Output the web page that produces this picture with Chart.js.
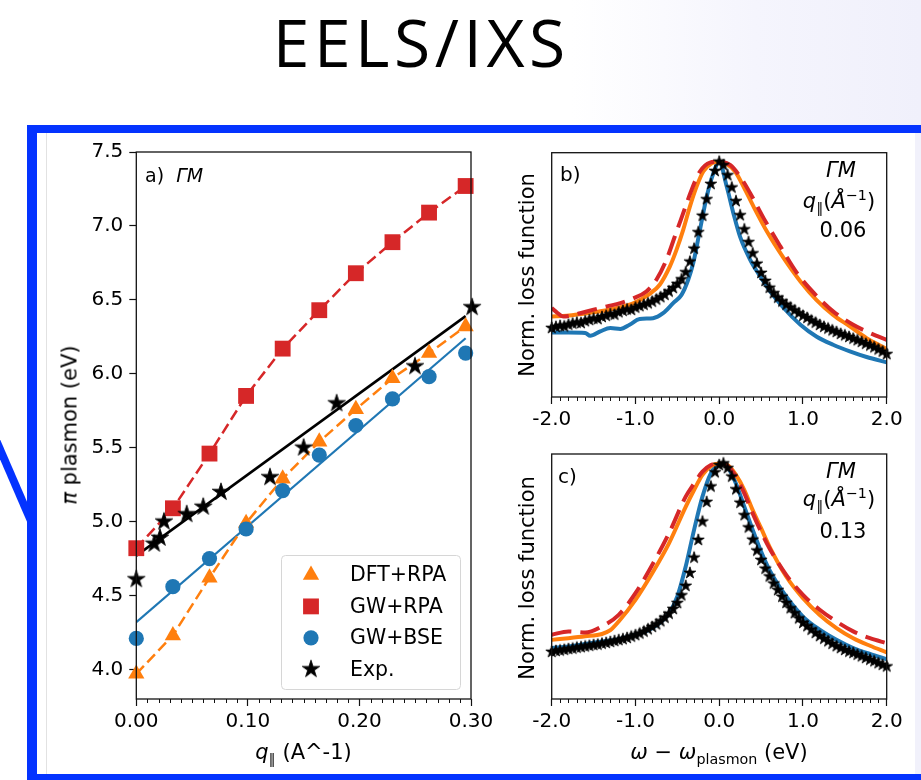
<!DOCTYPE html>
<html>
<head>
<meta charset="utf-8">
<script src="https://cdn.jsdelivr.net/npm/chart.js@4.4.1/dist/chart.umd.min.js"></script>
<style>
  html, body { margin: 0; padding: 0; }
  body {
    width: 921px; height: 780px; overflow: hidden; position: relative;
    background: linear-gradient(90deg, #ffffff 0%, #ffffff 62%, #f5f5fd 82%, #f0f0fb 100%);
    font-family: 'DejaVu Sans', sans-serif; color: #000;
  }
  #title {
    position: absolute; left: 0; top: 8px; width: 838px; text-align: center;
    font-family: 'Open Sans', sans-serif; font-size: 66px; line-height: 66px; color: #000;
    letter-spacing: 4.5px; padding-left: 4.5px; box-sizing: border-box;
  }
  #frame {
    position: absolute; left: 27px; top: 125px; width: 900px; height: 641px;
    border-top: 8px solid #0433ff; border-left: 10px solid #0433ff; border-bottom: 8px solid #0433ff;
    background: linear-gradient(90deg, #ffffff 878px, #f1f1fb 878px);
  }
  #edge { position: absolute; left: 46px; top: 133px; width: 1px; height: 641px; background: #e2e2e2; }
  #deco { position: absolute; left: 0; top: 0; }
  canvas { position: absolute; }
  .lbl { position: absolute; white-space: nowrap; line-height: 1; }
  .rot { position: absolute; white-space: nowrap; line-height: 1; font-size: 21px;
         transform: translate(-50%, -50%) rotate(-90deg); }
  .ctr { position: absolute; white-space: nowrap; line-height: 1; font-size: 21px;
         transform: translate(-50%, -50%); }
  .ann { position: absolute; white-space: nowrap; line-height: 21px; font-size: 21px;
         transform: translateX(-50%); }
  sub, sup { line-height: 0; font-size: 68%; }
</style>
</head>
<body>
<div id="title">EELS/IXS</div>
<div id="frame"></div>
<div id="edge"></div>
<svg id="deco" width="40" height="780"><line x1="-4" y1="440" x2="31" y2="521" stroke="#0433ff" stroke-width="8"/></svg>

<canvas id="dispersion" width="450" height="640" style="left:50px;top:140px"></canvas>
<canvas id="lossB" width="405" height="300" style="left:500px;top:140px"></canvas>
<canvas id="lossC" width="405" height="340" style="left:500px;top:440px"></canvas>

<div class="lbl" style="left:145px;top:166px;font-size:19px">a)&nbsp; <i>ΓM</i></div>
<div class="rot" style="left:70px;top:425px"><i>π</i> plasmon (eV)</div>
<div class="ctr" style="left:303.5px;top:752px"><i>q</i><sub>∥</sub> (A^-1)</div>

<div class="lbl" style="left:560px;top:164px;font-size:20px">b)</div>
<div class="ann" style="left:841px;top:160px"><i>ΓM</i></div>
<div class="ann" style="left:839px;top:191px"><i>q</i><sub>∥</sub>(<i>Å</i><sup>−1</sup>)</div>
<div class="ann" style="left:843px;top:220px">0.06</div>
<div class="rot" style="left:527px;top:275px">Norm. loss function</div>

<div class="lbl" style="left:558px;top:466px;font-size:20px">c)</div>
<div class="ann" style="left:841px;top:461px"><i>ΓM</i></div>
<div class="ann" style="left:839px;top:489px"><i>q</i><sub>∥</sub>(<i>Å</i><sup>−1</sup>)</div>
<div class="ann" style="left:843px;top:521px">0.13</div>
<div class="rot" style="left:527px;top:578px">Norm. loss function</div>
<div class="ctr" style="left:719px;top:752px"><i>ω</i> − <i>ω</i><sub>plasmon</sub> (eV)</div>

<script>
'use strict';

// panel a: plasmon dispersion
const qTicks = [0.0, 0.1, 0.2, 0.3];
const plasmonTicks = [4.0, 4.5, 5.0, 5.5, 6.0, 6.5, 7.0, 7.5];
const qCalc = [0.0, 0.0328, 0.0656, 0.0984, 0.1312, 0.164, 0.1968, 0.2296, 0.2624, 0.2952];
const dftRpa = [3.97, 4.23, 4.62, 4.99, 5.29, 5.54, 5.76, 5.97, 6.14, 6.32];
const gwRpa = [4.82, 5.09, 5.46, 5.85, 6.17, 6.43, 6.68, 6.89, 7.09, 7.27];
const gwBse = [4.21, 4.56, 4.75, 4.95, 5.21, 5.45, 5.65, 5.83, 5.98, 6.14];
const qExp = [0.0, 0.0161, 0.0212, 0.0248, 0.0452, 0.060, 0.0759, 0.1198, 0.150, 0.1796, 0.2498, 0.301];
const expPlasmon = [4.61, 4.85, 4.89, 5.00, 5.05, 5.10, 5.20, 5.30, 5.50, 5.80, 6.05, 6.45];
const fitQ = [0.0, 0.2952];
const fitBse = [4.32, 6.24];
const fitExp = [4.77, 6.39];

// panels b, c: normalized loss functions
const omegaTicks = [-2, -1, 0, 1, 2];
const omegaGrid = [-2.00, -1.95, -1.90, -1.85, -1.80, -1.75, -1.70, -1.65, -1.60, -1.55,
  -1.50, -1.45, -1.40, -1.35, -1.30, -1.25, -1.20, -1.15, -1.10, -1.05,
  -1.00, -0.95, -0.90, -0.85, -0.80, -0.75, -0.70, -0.65, -0.60, -0.55,
  -0.50, -0.45, -0.40, -0.35, -0.30, -0.25, -0.20, -0.15, -0.10, -0.05,
  0.00, 0.05, 0.10, 0.15, 0.20, 0.25, 0.30, 0.35, 0.40, 0.45,
  0.50, 0.55, 0.60, 0.65, 0.70, 0.75, 0.80, 0.85, 0.90, 0.95,
  1.00, 1.05, 1.10, 1.15, 1.20, 1.25, 1.30, 1.35, 1.40, 1.45,
  1.50, 1.55, 1.60, 1.65, 1.70, 1.75, 1.80, 1.85, 1.90, 1.95, 2.00];

const expB = [0.293, 0.298, 0.302, 0.300, 0.307, 0.312, 0.316, 0.314, 0.322, 0.327,
  0.333, 0.331, 0.340, 0.345, 0.352, 0.350, 0.360, 0.366, 0.372, 0.370,
  0.380, 0.386, 0.392, 0.398, 0.405, 0.414, 0.424, 0.434, 0.448, 0.463,
  0.480, 0.500, 0.530, 0.575, 0.630, 0.700, 0.770, 0.840, 0.905, 0.960,
  1.000, 0.985, 0.942, 0.890, 0.832, 0.772, 0.712, 0.658, 0.610, 0.566,
  0.527, 0.493, 0.464, 0.441, 0.422, 0.406, 0.392, 0.380, 0.368, 0.356,
  0.345, 0.336, 0.325, 0.316, 0.306, 0.298, 0.291, 0.283, 0.276, 0.268,
  0.262, 0.255, 0.248, 0.241, 0.234, 0.226, 0.219, 0.211, 0.202, 0.193, 0.182];

const bseBx = [-2.0, -1.8, -1.6, -1.54, -1.42, -1.30, -1.18, -1.07, -0.95, -0.79, -0.67, -0.55, -0.45, -0.37,
  -0.31, -0.23, -0.15, -0.07, 0.0, 0.09, 0.17, 0.25, 0.37, 0.49, 0.61, 0.77, 0.97, 1.16, 1.36, 1.56, 1.76, 2.0];
const bseB = [0.274, 0.274, 0.272, 0.260, 0.279, 0.293, 0.289, 0.307, 0.331, 0.335, 0.356, 0.399, 0.434, 0.498,
  0.569, 0.710, 0.850, 0.950, 1.000, 0.894, 0.780, 0.680, 0.583, 0.512, 0.448, 0.378, 0.307, 0.257, 0.222, 0.194, 0.170, 0.147];
const dftBx = [-2.0, -1.82, -1.62, -1.42, -1.22, -1.02, -0.83, -0.71, -0.59, -0.51, -0.43, -0.35, -0.27, -0.19,
  -0.09, 0.0, 0.09, 0.19, 0.29, 0.41, 0.57, 0.77, 0.97, 1.16, 1.36, 1.56, 1.76, 2.0];
const dftB = [0.342, 0.345, 0.354, 0.364, 0.378, 0.399, 0.438, 0.477, 0.554, 0.625, 0.710, 0.809, 0.894, 0.958,
  0.993, 1.000, 0.990, 0.958, 0.894, 0.809, 0.703, 0.590, 0.491, 0.413, 0.349, 0.300, 0.250, 0.204];
const rpaBx = [-2.0, -1.94, -1.86, -1.78, -1.66, -1.5, -1.34, -1.18, -1.02, -0.87, -0.75, -0.63, -0.53, -0.43,
  -0.33, -0.23, -0.11, 0.0, 0.13, 0.25, 0.37, 0.53, 0.73, 0.93, 1.17, 1.36, 1.6, 1.8, 2.0];
const rpaB = [0.378, 0.360, 0.342, 0.345, 0.356, 0.371, 0.385, 0.399, 0.420, 0.448, 0.498, 0.583, 0.682, 0.781,
  0.880, 0.958, 0.996, 1.000, 0.986, 0.936, 0.866, 0.760, 0.640, 0.526, 0.427, 0.364, 0.307, 0.272, 0.243];

const expC = [0.200, 0.204, 0.206, 0.209, 0.212, 0.214, 0.218, 0.220, 0.223, 0.226,
  0.229, 0.231, 0.235, 0.238, 0.242, 0.246, 0.250, 0.254, 0.259, 0.265,
  0.271, 0.278, 0.286, 0.296, 0.306, 0.317, 0.330, 0.345, 0.362, 0.382,
  0.407, 0.440, 0.480, 0.535, 0.600, 0.675, 0.753, 0.836, 0.902, 0.962,
  0.993, 1.000, 0.980, 0.944, 0.890, 0.833, 0.780, 0.728, 0.676, 0.630,
  0.590, 0.553, 0.520, 0.490, 0.462, 0.434, 0.408, 0.385, 0.364, 0.342,
  0.323, 0.309, 0.294, 0.280, 0.267, 0.256, 0.245, 0.234, 0.224, 0.216,
  0.208, 0.201, 0.195, 0.188, 0.181, 0.174, 0.167, 0.160, 0.152, 0.145, 0.138];

const bseCx = [-2.0, -1.8, -1.6, -1.4, -1.2, -1.0, -0.8, -0.6, -0.5, -0.4, -0.3, -0.2, -0.1, 0.0,
  0.05, 0.1, 0.2, 0.3, 0.4, 0.5, 0.6, 0.8, 1.0, 1.2, 1.4, 1.6, 1.8, 2.0];
const bseC = [0.216, 0.223, 0.234, 0.244, 0.254, 0.273, 0.301, 0.364, 0.435, 0.562, 0.718, 0.859, 0.958, 0.997,
  1.000, 0.986, 0.915, 0.816, 0.718, 0.626, 0.548, 0.435, 0.350, 0.294, 0.251, 0.216, 0.191, 0.169];
const dftCx = [-2.0, -1.8, -1.6, -1.4, -1.3, -1.2, -1.0, -0.8, -0.6, -0.4, -0.3, -0.2, -0.1, 0.0,
  0.1, 0.2, 0.3, 0.4, 0.5, 0.6, 0.8, 1.0, 1.2, 1.4, 1.6, 1.8, 2.0];
const dftC = [0.251, 0.258, 0.266, 0.276, 0.292, 0.329, 0.421, 0.534, 0.661, 0.816, 0.887, 0.951, 0.989, 1.000,
  0.993, 0.951, 0.887, 0.802, 0.725, 0.647, 0.520, 0.428, 0.357, 0.301, 0.258, 0.226, 0.198];
const rpaCx = [-2.0, -1.8, -1.6, -1.4, -1.2, -1.0, -0.8, -0.6, -0.4, -0.3, -0.2, -0.1, 0.0,
  0.1, 0.2, 0.3, 0.4, 0.5, 0.6, 0.8, 1.0, 1.2, 1.4, 1.6, 1.8, 2.0];
const rpaC = [0.273, 0.287, 0.282, 0.308, 0.357, 0.449, 0.569, 0.703, 0.859, 0.915, 0.965, 0.993, 1.000,
  0.989, 0.944, 0.873, 0.788, 0.710, 0.640, 0.527, 0.442, 0.379, 0.329, 0.287, 0.258, 0.237];

const BLUE = '#1f77b4', ORANGE = '#ff7f0e', RED = '#d62728';

Chart.defaults.font.family = "'DejaVu Sans', sans-serif";
Chart.defaults.font.size = 20;
Chart.defaults.color = '#000';

const pts = (xs, ys) => xs.map((x, i) => ({ x: x, y: ys[i] }));

// filled five-pointed star like matplotlib's '*'
function makeStar(R) {
  const c = document.createElement('canvas');
  const s = Math.ceil(2 * R + 3);
  c.width = s; c.height = s;
  const g = c.getContext('2d');
  g.fillStyle = '#000';
  g.strokeStyle = '#000';
  g.lineWidth = 0.8;
  g.beginPath();
  for (let k = 0; k < 10; k++) {
    const r = k % 2 === 0 ? R : R * 0.382;
    const a = -Math.PI / 2 + k * Math.PI / 5;
    g.lineTo(s / 2 + r * Math.cos(a), s / 2 + r * Math.sin(a));
  }
  g.closePath();
  g.fill();
  g.stroke();
  return c;
}
const starBig = makeStar(9.2);
const starSmall = makeStar(6.2);

const boxFrame = {
  id: 'boxFrame',
  afterDraw(chart) {
    const a = chart.chartArea, ctx = chart.ctx;
    ctx.save();
    ctx.strokeStyle = '#111';
    ctx.lineWidth = 1.3;
    ctx.strokeRect(a.left, a.top, a.right - a.left, a.bottom - a.top);
    ctx.restore();
  }
};

const minorTicks = {
  id: 'minorTicks',
  afterDraw(chart, args, opts) {
    if (!opts.step) return;
    const sc = chart.scales.x, ctx = chart.ctx;
    const n = Math.round((sc.max - sc.min) / opts.step);
    ctx.save();
    ctx.strokeStyle = '#111';
    ctx.lineWidth = 1;
    for (let i = 1; i < n; i++) {
      if (i % opts.every === 0) continue;
      const x = Math.round(sc.getPixelForValue(sc.min + i * opts.step)) + 0.5;
      ctx.beginPath();
      ctx.moveTo(x, chart.chartArea.bottom);
      ctx.lineTo(x, chart.chartArea.bottom + 4);
      ctx.stroke();
    }
    ctx.restore();
  }
};

const boxLegend = {
  id: 'boxLegend',
  afterDraw(chart, args, opts) {
    if (!opts.items) return;
    const a = chart.chartArea, ctx = chart.ctx;
    const w = 179, h = 134;
    const x0 = a.right - 11 - w, y0 = a.bottom - 10 - h;
    ctx.save();
    ctx.beginPath();
    ctx.roundRect(x0 + 0.5, y0 + 0.5, w, h, 4);
    ctx.fillStyle = 'rgba(255,255,255,0.85)';
    ctx.fill();
    ctx.strokeStyle = '#d6d6d6';
    ctx.lineWidth = 1;
    ctx.stroke();
    opts.items.forEach((idx, i) => {
      const ds = chart.data.datasets[idx];
      const cy = y0 + 20 + i * 31.4;
      ctx.fillStyle = ds.backgroundColor;
      Chart.helpers.drawPoint(ctx, { pointStyle: ds.pointStyle, radius: ds.pointRadius, rotation: 0, borderWidth: 0 }, x0 + 30, cy);
      ctx.fillStyle = '#000';
      ctx.font = "20.5px 'DejaVu Sans'";
      ctx.textBaseline = 'middle';
      ctx.textAlign = 'left';
      ctx.fillText(ds.label, x0 + 69, cy + 1);
    });
    ctx.restore();
  }
};

function xScale(min, max, ticks, digits, height) {
  return {
    type: 'linear', min: min, max: max,
    afterBuildTicks: s => { s.ticks = ticks.map(v => ({ value: v })); },
    afterFit: s => { s.height = height; s.paddingLeft = 0; s.paddingRight = 0; },
    ticks: { callback: v => Number(v).toFixed(digits), padding: 4, maxRotation: 0, autoSkip: false, color: '#000' },
    grid: { drawOnChartArea: false, drawTicks: true, tickLength: 7, tickColor: '#111', tickWidth: 1.2 },
    border: { display: false }
  };
}

// ---- panel a ----
new Chart(document.getElementById('dispersion'), {
  type: 'scatter',
  data: {
    datasets: [
      { label: 'Exp.', data: pts(qExp, expPlasmon), pointStyle: starBig, pointRadius: 9, backgroundColor: '#000', showLine: false, clip: false },
      { label: 'GW+BSE', data: pts(qCalc, gwBse), pointStyle: 'circle', pointRadius: 7.6, backgroundColor: BLUE, pointBorderWidth: 0, showLine: false, clip: false },
      { label: 'DFT+RPA', data: pts(qCalc, dftRpa), pointStyle: 'triangle', pointRadius: 9.4, backgroundColor: ORANGE, pointBorderWidth: 0,
        showLine: true, borderColor: ORANGE, borderWidth: 2.5, borderDash: [11, 5], clip: false },
      { label: 'GW+RPA', data: pts(qCalc, gwRpa), pointStyle: 'rect', pointRadius: 11.2, backgroundColor: RED, pointBorderWidth: 0,
        showLine: true, borderColor: RED, borderWidth: 2.5, borderDash: [11, 5], clip: false },
      { label: 'fit exp', data: pts(fitQ, fitExp), pointRadius: 0, showLine: true, borderColor: '#000', borderWidth: 2.6 },
      { label: 'fit bse', data: pts(fitQ, fitBse), pointRadius: 0, showLine: true, borderColor: BLUE, borderWidth: 2.2 }
    ]
  },
  options: {
    responsive: false, animation: false, events: [], devicePixelRatio: 1,
    layout: { padding: { top: 12, right: 29, left: 0, bottom: 0 } },
    scales: {
      x: xScale(0, 0.3, qTicks, 2, 81),
      y: {
        type: 'linear', min: 3.8, max: 7.5,
        afterBuildTicks: s => { s.ticks = plasmonTicks.map(v => ({ value: v })); },
        afterFit: s => { s.width = 86.3; s.paddingTop = 0; s.paddingBottom = 0; },
        ticks: { callback: v => Number(v).toFixed(1), padding: 6, color: '#000' },
        grid: { drawOnChartArea: false, drawTicks: true, tickLength: 7, tickColor: '#111', tickWidth: 1.2 },
        border: { display: false }
      }
    },
    plugins: {
      legend: { display: false }, tooltip: { enabled: false },
      minorTicks: { step: 0.01, every: 10 },
      boxLegend: { items: [2, 3, 1, 0] }
    }
  },
  plugins: [boxFrame, minorTicks, boxLegend]
});

// ---- panels b and c ----
function lossChart(id, exp, bx, bse, dx, dft, rx, rpa, yMax, padTop, xHeight) {
  return new Chart(document.getElementById(id), {
    type: 'scatter',
    data: {
      datasets: [
        { label: 'Exp.', data: pts(omegaGrid, exp), pointStyle: starSmall, pointRadius: 6, backgroundColor: '#000', showLine: false, clip: false },
        { label: 'GW+RPA', data: pts(rx, rpa), pointRadius: 0, showLine: true, borderColor: RED, borderWidth: 4,
          borderDash: [20, 9], cubicInterpolationMode: 'monotone' },
        { label: 'DFT+RPA', data: pts(dx, dft), pointRadius: 0, showLine: true, borderColor: ORANGE, borderWidth: 4,
          cubicInterpolationMode: 'monotone' },
        { label: 'GW+BSE', data: pts(bx, bse), pointRadius: 0, showLine: true, borderColor: BLUE, borderWidth: 4,
          cubicInterpolationMode: 'monotone' }
      ]
    },
    options: {
      responsive: false, animation: false, events: [], devicePixelRatio: 1,
      layout: { padding: { top: padTop, right: 18.3, left: 0, bottom: 0 } },
      scales: {
        x: xScale(-2, 2, omegaTicks, 1, xHeight),
        y: {
          type: 'linear', min: 0, max: yMax,
          afterFit: s => { s.width = 51.7; s.paddingTop = 0; s.paddingBottom = 0; },
          ticks: { display: false },
          grid: { display: false },
          border: { display: false }
        }
      },
      plugins: {
        legend: { display: false }, tooltip: { enabled: false },
        minorTicks: { step: 0.1, every: 10 }
      }
    },
    plugins: [boxFrame, minorTicks]
  });
}

lossChart('lossB', expB, bseBx, bseB, dftBx, dftB, rpaBx, rpaB, 1.038, 12.7, 43);
lossChart('lossC', expC, bseCx, bseC, dftCx, dftC, rpaCx, rpaC, 1.04, 14, 81);
</script>
</body>
</html>
